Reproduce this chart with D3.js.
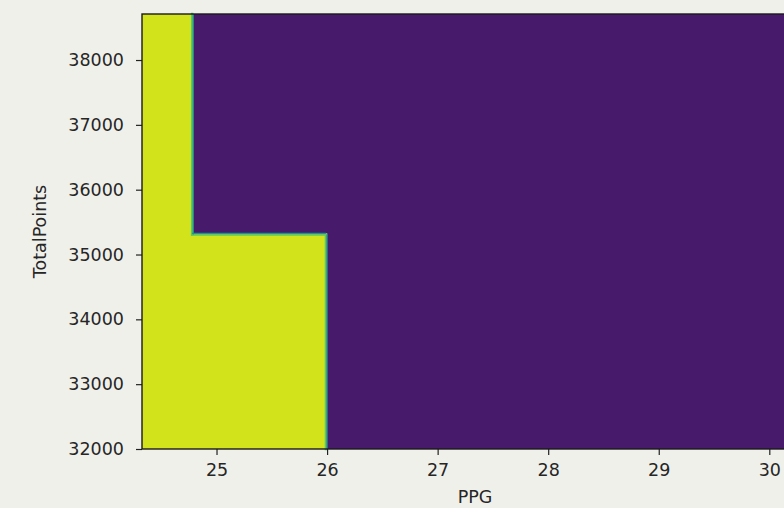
<!DOCTYPE html>
<html><head><meta charset="utf-8">
<script src="https://cdn.jsdelivr.net/npm/d3@7"></script>
<style>html,body{margin:0;padding:0;background:#f0f0eb;}svg{display:block;}</style>
</head><body>
<script>
// Decision-region grid: cell edges along PPG and TotalPoints, predicted class per cell
const ppgEdges = [24.326, 24.78, 25.99, 30.35];
const pointEdges = [32000, 35310, 38710];
const predictedClass = [
  [1, 1, 0],   // TotalPoints 32000–35310
  [1, 0, 0]    // TotalPoints 35310–38710
];
const xTicks = [25, 26, 27, 28, 29, 30];
const yTicks = [32000, 33000, 34000, 35000, 36000, 37000, 38000];
const xLabel = "PPG";
const yLabel = "TotalPoints";

const W = 784, H = 508;
const L = 142, R = 808, T = 14, B = 449;
const classColor = {0: "#481a6c", 1: "#d2e21b"};

const svg = d3.select("body").append("svg").attr("width", W).attr("height", H);
svg.append("rect").attr("width", W).attr("height", H).attr("fill", "#f0f0eb");

const x = d3.scaleLinear().domain([ppgEdges[0], ppgEdges[ppgEdges.length-1]]).range([L, R]);
const y = d3.scaleLinear().domain([pointEdges[0], pointEdges[pointEdges.length-1]]).range([B, T]);

const cells = [];
predictedClass.forEach((row, i) => row.forEach((c, j) => cells.push({i, j, c})));
svg.append("g").attr("shape-rendering", "crispEdges").selectAll("rect").data(cells).join("rect")
  .attr("x", d => Math.floor(x(ppgEdges[d.j])))
  .attr("y", d => Math.floor(y(pointEdges[d.i+1])))
  .attr("width", d => Math.ceil(x(ppgEdges[d.j+1])) - Math.floor(x(ppgEdges[d.j])))
  .attr("height", d => Math.ceil(y(pointEdges[d.i])) - Math.floor(y(pointEdges[d.i+1])))
  .attr("fill", d => classColor[d.c]);

// boundary segments between cells of different class
const segs = [];
for (let i = 0; i < predictedClass.length; i++) {
  for (let j = 0; j < predictedClass[i].length; j++) {
    if (j + 1 < predictedClass[i].length && predictedClass[i][j] !== predictedClass[i][j+1])
      segs.push([ppgEdges[j+1], pointEdges[i], ppgEdges[j+1], pointEdges[i+1]]);
    if (i + 1 < predictedClass.length && predictedClass[i][j] !== predictedClass[i+1][j])
      segs.push([ppgEdges[j], pointEdges[i+1], ppgEdges[j+1], pointEdges[i+1]]);
  }
}
const bg = svg.append("g");
bg.selectAll("line.g").data(segs).join("line")
  .attr("x1", d => x(d[0])).attr("y1", d => y(d[1])).attr("x2", d => x(d[2])).attr("y2", d => y(d[3]))
  .attr("stroke", "#5ec962").attr("stroke-width", 2.5).attr("stroke-linecap", "square");
bg.selectAll("line.t").data(segs).join("line")
  .attr("x1", d => x(d[0]) + (d[0]===d[2] ? 1 : 0)).attr("y1", d => y(d[1]) - (d[1]===d[3] ? 1 : 0))
  .attr("x2", d => x(d[2]) + (d[0]===d[2] ? 1 : 0)).attr("y2", d => y(d[3]) - (d[1]===d[3] ? 1 : 0))
  .attr("stroke", "#21918c").attr("stroke-width", 1.2);

// axes
const font = "DejaVu Sans, sans-serif";
const xAxis = svg.append("g").attr("transform", `translate(0,${B})`)
  .call(d3.axisBottom(x).tickValues(xTicks).tickFormat(d3.format("d")).tickSize(6).tickPadding(9));
const yAxis = svg.append("g").attr("transform", `translate(${L},0)`)
  .call(d3.axisLeft(y).tickValues(yTicks).tickFormat(d3.format("d")).tickSize(6).tickPadding(12));
[xAxis, yAxis].forEach(a => {
  a.select(".domain").remove();
  a.selectAll("line").attr("stroke", "#222").attr("stroke-width", 1.2);
  a.selectAll("text").attr("font-family", font).attr("font-size", 17.5).attr("fill", "#262626");
});

// spines
svg.append("rect").attr("x", L).attr("y", T).attr("width", R - L).attr("height", B - T)
  .attr("fill", "none").attr("stroke", "#1a1a1a").attr("stroke-width", 1.4);

svg.append("text").attr("x", (L + R) / 2).attr("y", 503).attr("text-anchor", "middle")
  .attr("font-family", font).attr("font-size", 17.5).attr("fill", "#262626").text(xLabel);
svg.append("text").attr("transform", `translate(46,${(T + B) / 2}) rotate(-90)`).attr("text-anchor", "middle")
  .attr("font-family", font).attr("font-size", 17.5).attr("fill", "#262626").text(yLabel);
</script>
</body></html>
